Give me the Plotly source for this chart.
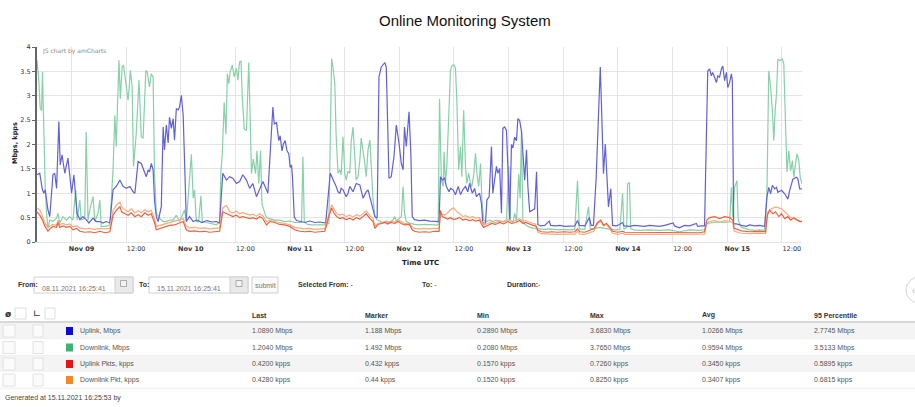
import plotly.graph_objects as go
import pandas as pd

START = pd.Timestamp("2021-11-08 16:25:41")
SPAN_H = 168

# ---------------- series data (hours since START, values) ----------------
uplink_h = [0.0,0.6,1.2,1.5,1.8,2.4,2.8,3.5,3.9,4.3,
    4.8,5.1,5.5,6.1,6.8,7.3,7.6,8.1,8.5,8.8,
    9.4,10.1,10.8,11.4,12.3,13.0,13.8,14.5,15.2,16.0,
    16.7,17.4,18.2,18.9,19.6,20.4,21.1,21.5,22.2,22.9,
    23.7,24.0,24.4,24.7,25.1,25.5,25.8,26.2,26.6,27.3,
    27.7,28.0,28.4,28.8,29.1,29.5,29.9,30.2,30.6,31.0,
    31.3,31.7,32.1,32.4,32.8,33.5,34.3,35.1,36.2,37.3,
    38.4,39.4,40.1,40.8,41.6,42.3,43.0,43.8,44.5,45.2,
    46.0,46.7,47.4,48.2,48.9,49.6,50.4,50.7,51.8,52.1,
    52.6,53.1,53.4,53.8,54.1,54.5,54.9,55.3,55.6,55.9,
    56.1,56.5,57.0,57.7,58.8,59.9,61.0,62.1,63.4,64.4,
    64.9,65.4,65.7,66.1,66.5,66.8,67.2,67.9,68.3,68.7,
    69.4,70.1,70.9,71.6,72.3,72.7,73.1,73.4,74.2,74.7,
    75.1,75.6,76.4,76.7,77.0,77.3,77.8,78.4,78.9,79.5,
    80.0,80.4,80.7,81.1,81.7,82.1,82.4,82.9,84.0,85.1,
    86.2,87.7,88.3,88.6,89.0,89.5,89.9,90.5,90.8,91.4,
    91.9,92.5,93.0,93.5,94.1,94.6,95.0,95.6,96.1,96.5,
    97.2,97.6,97.9,98.5,98.8,99.3,99.8,100.1,100.5,100.9,
    101.2,101.6,102.0,102.3,102.7,103.1,103.4,103.8,104.2,104.5,
    104.9,105.3,105.6,106.0,106.4,106.7,107.1,107.5,107.8,108.2,
    108.9,109.3,109.7,110.0,110.6,111.5,112.5,112.8,113.9,114.8,
    115.9,117.0,118.1,118.7,119.1,120.3,121.3,121.7,122.2,122.8,
    123.3,123.7,124.0,124.4,124.8,125.2,125.5,126.0,126.4,127.3,
    128.6,128.9,130.2,131.2,132.3,133.4,134.5,135.6,136.7,137.8,
    139.7,140.0,141.1,142.2,143.3,144.8,145.1,146.0,146.6,147.3,
    147.7,148.1,148.4,148.8,149.2,149.5,149.9,150.3,150.6,151.0,
    151.4,151.7,152.1,152.5,152.7,153.0,153.6,154.7,155.8,156.5,
    157.6,158.7,159.8,160.3,160.7,161.1,161.5,162.0,162.4,162.7,
    163.5,164.2,164.9,165.3,165.7,166.0,166.8,167.1,167.5,168.0]
uplink = [1.38,1.41,1.07,1.00,1.07,0.66,0.52,1.38,1.41,1.10,
    2.47,1.58,1.79,1.41,1.72,1.20,1.00,1.38,1.00,0.59,
    0.46,0.52,0.46,0.39,0.49,0.42,0.42,0.39,0.42,0.39,
    1.07,1.14,1.27,1.14,1.10,1.14,1.03,1.00,1.65,1.61,
    1.41,1.34,1.48,1.44,1.61,1.48,0.86,0.52,0.42,0.73,
    2.36,1.89,2.40,2.03,2.56,2.33,2.53,2.09,2.74,2.71,
    2.77,3.01,2.60,1.41,0.42,0.52,0.42,0.45,0.40,0.44,
    0.41,0.42,0.39,1.41,1.27,1.34,1.31,1.20,1.24,1.38,
    1.27,1.10,1.20,0.93,1.07,1.24,1.07,1.00,2.77,2.42,
    2.45,2.08,2.18,1.87,2.01,2.08,1.87,1.81,1.53,1.58,
    1.33,0.51,0.44,0.42,0.40,0.43,0.40,0.41,0.39,1.41,
    1.31,1.20,1.14,1.03,1.00,1.10,1.07,0.93,1.00,1.14,
    1.03,1.20,1.17,0.90,1.03,1.07,0.93,0.80,0.52,0.49,
    3.39,3.59,3.68,3.59,2.36,1.31,1.34,1.75,2.40,2.03,
    1.61,1.48,2.36,1.96,2.67,1.82,0.52,0.46,0.44,0.45,
    0.43,0.42,0.42,1.34,1.27,1.31,1.14,1.03,1.10,1.07,
    0.97,1.14,0.97,1.07,1.14,1.03,1.20,1.00,1.10,0.93,
    1.00,0.79,0.39,0.39,0.86,0.93,1.96,1.00,1.27,1.55,
    1.41,1.51,0.59,2.33,2.36,2.29,1.55,0.46,2.00,1.93,
    2.15,2.08,2.53,2.49,2.27,1.82,1.27,1.89,1.14,0.62,
    0.65,0.68,1.44,0.36,0.33,0.34,0.43,0.34,0.33,0.34,
    0.32,0.33,0.33,0.44,0.34,0.33,0.50,0.34,0.34,1.32,
    2.69,3.59,2.69,1.40,2.01,1.33,0.72,1.09,0.34,0.33,
    0.40,0.33,0.32,0.34,0.33,0.32,0.34,0.33,0.32,0.34,
    0.39,0.33,0.29,0.34,0.33,0.38,0.32,0.33,0.33,3.51,
    3.55,3.41,3.48,3.38,3.27,3.41,3.38,3.55,3.61,3.31,
    3.48,3.17,3.27,3.45,3.31,0.37,0.37,0.34,0.32,0.35,
    0.33,0.34,0.32,0.92,1.12,0.99,1.16,1.09,1.12,1.02,
    1.06,0.99,0.88,1.06,1.19,1.29,1.33,1.29,1.09,1.09]

downlink_h = [0.0,0.4,0.7,1.0,1.2,1.5,1.8,2.1,2.4,2.8,
    3.5,4.3,4.6,5.0,5.7,6.5,7.2,7.9,8.5,8.8,
    9.4,9.7,10.5,10.8,11.2,11.6,12.3,12.7,13.4,13.8,
    14.1,15.2,16.0,16.7,17.1,17.4,18.0,18.3,18.7,19.0,
    19.5,20.0,20.2,20.5,20.9,21.2,21.8,22.4,22.9,23.3,
    23.9,24.2,24.7,25.1,25.5,25.8,26.2,26.9,27.7,28.4,
    29.1,29.9,30.6,31.3,32.1,32.4,32.8,33.5,33.9,34.3,
    34.6,35.0,35.5,36.0,36.3,37.2,37.9,38.6,39.4,40.1,
    40.4,40.7,41.1,41.5,41.8,42.1,42.4,42.9,43.3,43.8,
    44.1,44.5,44.8,45.1,45.5,46.0,46.5,46.8,47.1,47.5,
    48.0,48.3,48.7,49.1,49.4,50.0,50.4,51.1,52.2,53.3,
    54.4,55.5,56.6,58.1,58.4,58.7,59.4,60.3,61.2,62.1,
    63.2,64.1,64.4,64.7,65.0,65.4,65.7,66.1,66.5,66.8,
    67.2,67.6,67.9,68.3,68.7,69.0,69.4,69.8,70.1,70.5,
    70.9,71.2,71.6,72.0,72.3,72.7,73.1,73.4,73.8,74.2,
    74.6,75.3,76.0,76.7,77.5,78.2,78.6,78.9,79.3,80.0,
    80.4,80.7,81.1,81.8,82.9,84.0,85.1,86.2,87.3,88.1,
    88.4,88.8,89.2,89.4,89.7,90.0,90.4,90.8,91.2,91.6,
    91.9,92.2,92.6,93.0,93.3,93.7,94.1,94.4,94.8,95.2,
    95.5,95.9,96.3,96.6,97.0,97.4,97.7,98.1,98.7,99.4,
    100.1,100.9,101.6,102.3,103.1,103.6,104.0,104.5,104.9,105.3,
    105.8,106.1,106.4,106.7,107.1,108.2,109.3,110.4,111.5,112.6,
    113.7,114.8,115.9,117.0,118.1,118.7,119.1,120.3,121.1,121.5,
    122.5,123.6,124.7,125.8,126.9,128.0,128.6,128.9,129.5,129.7,
    130.1,130.4,131.2,132.3,134.5,136.7,138.9,141.1,143.3,145.5,
    146.6,147.1,148.2,149.5,151.0,152.1,152.5,152.8,153.2,153.7,
    154.0,154.7,155.8,156.5,157.6,158.7,159.8,160.3,160.7,161.1,
    161.5,161.8,162.1,162.4,162.7,163.1,163.7,164.0,164.4,164.7,
    165.1,165.5,165.9,166.2,166.5,166.9,167.3,167.6,168.0]
downlink = [3.73,3.32,2.74,2.70,3.49,2.23,1.14,0.59,0.28,0.45,
    0.42,0.49,0.59,0.39,0.52,0.45,0.52,0.45,1.07,0.45,
    0.86,0.45,0.49,2.26,0.45,0.66,0.93,0.42,0.59,0.86,
    0.32,0.32,0.35,1.48,2.60,1.96,3.73,2.94,3.59,3.63,
    3.32,2.91,3.11,3.52,3.18,1.55,2.23,3.32,2.16,2.13,
    3.52,3.49,3.18,3.45,3.38,1.41,0.59,0.49,0.42,0.42,
    0.45,0.45,0.55,0.42,0.59,0.66,0.42,1.41,1.80,0.90,
    1.07,0.42,0.42,0.95,0.42,0.40,0.38,0.36,0.35,0.42,
    1.46,1.82,2.86,2.21,3.45,3.25,3.48,3.63,3.39,3.56,
    3.32,3.70,3.71,2.94,2.32,2.29,3.68,2.60,1.40,1.70,
    1.40,1.87,1.20,1.87,0.78,0.60,0.50,0.48,0.45,0.45,
    0.42,0.43,0.40,0.40,1.75,0.42,0.36,0.35,0.35,0.35,
    0.35,0.38,2.09,3.76,3.59,3.25,2.16,1.41,1.48,1.38,
    2.16,1.41,1.27,1.45,1.41,2.06,2.36,1.68,1.27,1.34,
    1.68,2.13,1.89,1.61,1.34,1.89,2.09,1.55,0.86,0.52,
    0.46,0.43,0.39,0.43,0.39,0.46,0.52,0.43,0.46,0.52,
    1.14,0.59,0.42,0.39,0.36,0.35,0.36,0.35,0.35,0.35,
    2.94,1.27,1.14,1.85,1.20,1.55,2.57,3.52,3.63,3.63,
    3.56,2.91,1.48,1.96,1.34,2.70,1.55,1.20,1.41,1.20,
    1.14,1.38,1.82,1.41,1.14,1.61,0.86,0.45,0.42,0.45,
    0.42,0.45,0.42,0.42,0.45,1.55,0.45,0.39,0.59,0.42,
    1.40,0.90,2.30,0.45,0.36,0.30,0.28,0.27,0.26,0.27,
    0.26,0.25,0.26,0.25,0.26,1.26,0.27,0.26,0.72,0.27,
    0.28,0.30,0.28,0.27,0.25,0.26,1.00,0.26,0.30,1.19,
    1.22,0.27,0.25,0.24,0.25,0.24,0.25,0.21,0.25,0.24,
    0.25,0.38,0.40,0.41,0.40,0.42,1.12,0.50,1.12,1.26,
    0.45,0.30,0.27,0.25,0.24,0.25,0.24,1.00,3.51,3.20,
    2.69,2.08,2.69,3.03,3.75,3.72,3.75,3.65,2.35,1.43,
    1.87,1.46,1.67,1.33,1.54,1.81,1.67,1.33,1.20]

pkt_h = [0.0,0.6,1.2,1.7,2.4,2.8,3.5,4.3,4.6,5.0,
    5.7,6.5,7.2,7.9,8.7,9.4,10.5,11.6,12.7,13.8,
    14.9,16.0,16.7,17.4,18.2,18.6,19.3,20.0,20.7,21.5,
    22.2,22.9,23.7,24.4,25.1,25.8,26.2,26.9,28.0,29.1,
    30.2,31.3,32.1,32.8,33.5,34.6,35.7,36.8,37.9,39.0,
    40.1,40.8,41.6,42.3,43.0,43.8,44.5,45.2,46.0,46.7,
    47.4,48.2,48.9,49.6,50.4,51.1,52.2,53.3,54.4,55.5,
    56.6,57.7,58.8,59.9,61.0,62.1,63.2,64.2,64.7,65.2,
    65.8,66.5,67.2,67.9,68.7,69.4,70.1,70.9,71.6,72.3,
    73.1,73.8,74.2,74.9,75.6,76.4,77.0,77.7,78.6,79.3,
    80.0,80.7,81.8,82.4,82.9,84.0,85.1,86.2,87.3,88.3,
    88.6,89.0,89.5,90.2,90.8,91.5,92.2,92.8,93.5,94.1,
    95.0,95.7,96.3,97.2,97.7,98.1,99.0,99.8,100.7,101.6,
    102.5,103.4,104.2,105.1,106.0,106.7,107.3,108.2,108.9,109.5,
    110.0,110.8,112.2,113.0,114.3,115.9,117.0,118.1,118.7,119.2,
    120.3,121.4,122.3,123.1,123.8,124.4,125.1,125.8,126.4,127.5,
    128.6,129.1,130.2,132.3,134.5,136.7,138.9,141.1,143.3,145.5,
    146.6,147.1,147.7,148.8,149.9,151.0,152.1,152.8,153.1,153.9,
    154.7,156.5,158.7,160.0,160.4,160.9,161.6,162.2,162.9,163.5,
    164.2,164.9,165.5,166.2,166.8,167.5,168.0]
uplink_pkts = [0.62,0.55,0.45,0.33,0.22,0.27,0.32,0.30,0.40,0.30,
    0.33,0.30,0.32,0.25,0.28,0.22,0.20,0.21,0.19,0.22,
    0.19,0.21,0.55,0.65,0.72,0.62,0.58,0.55,0.60,0.52,
    0.56,0.52,0.60,0.55,0.58,0.40,0.25,0.27,0.30,0.34,
    0.35,0.40,0.42,0.25,0.22,0.23,0.21,0.22,0.20,0.21,
    0.22,0.62,0.58,0.55,0.52,0.55,0.50,0.52,0.50,0.48,
    0.50,0.47,0.52,0.48,0.35,0.42,0.40,0.36,0.35,0.32,
    0.25,0.22,0.21,0.22,0.20,0.21,0.22,0.55,0.70,0.60,
    0.52,0.48,0.50,0.46,0.49,0.45,0.50,0.47,0.52,0.58,
    0.48,0.42,0.28,0.36,0.38,0.40,0.37,0.40,0.38,0.42,
    0.38,0.35,0.36,0.25,0.22,0.20,0.21,0.20,0.22,0.22,
    0.65,0.52,0.50,0.47,0.50,0.46,0.48,0.50,0.45,0.47,
    0.44,0.46,0.43,0.45,0.35,0.30,0.34,0.38,0.36,0.40,
    0.37,0.42,0.38,0.40,0.44,0.38,0.40,0.36,0.34,0.33,
    0.24,0.21,0.20,0.21,0.20,0.21,0.20,0.21,0.27,0.21,
    0.20,0.24,0.27,0.40,0.45,0.35,0.38,0.30,0.22,0.20,
    0.22,0.20,0.20,0.19,0.20,0.19,0.20,0.19,0.20,0.19,
    0.21,0.45,0.50,0.52,0.48,0.52,0.50,0.45,0.28,0.25,
    0.23,0.21,0.22,0.21,0.55,0.65,0.58,0.62,0.52,0.58,
    0.48,0.52,0.45,0.50,0.46,0.42,0.42]
downlink_pkt = [0.70,0.66,0.52,0.40,0.30,0.33,0.36,0.34,0.45,0.36,
    0.38,0.35,0.37,0.31,0.33,0.29,0.27,0.28,0.26,0.28,
    0.27,0.28,0.65,0.75,0.82,0.72,0.66,0.62,0.68,0.60,
    0.64,0.60,0.66,0.62,0.65,0.48,0.32,0.34,0.36,0.40,
    0.42,0.46,0.48,0.32,0.29,0.30,0.28,0.29,0.27,0.28,
    0.29,0.70,0.75,0.62,0.60,0.63,0.58,0.60,0.57,0.55,
    0.57,0.53,0.58,0.54,0.42,0.45,0.42,0.40,0.38,0.36,
    0.30,0.28,0.27,0.28,0.26,0.27,0.28,0.60,0.76,0.68,
    0.58,0.55,0.57,0.52,0.55,0.51,0.56,0.53,0.58,0.64,
    0.54,0.48,0.33,0.38,0.40,0.42,0.40,0.43,0.41,0.45,
    0.42,0.38,0.38,0.30,0.28,0.27,0.28,0.27,0.28,0.28,
    0.58,0.56,0.55,0.60,0.66,0.70,0.62,0.58,0.52,0.54,
    0.50,0.52,0.49,0.50,0.40,0.35,0.38,0.42,0.40,0.44,
    0.41,0.46,0.42,0.44,0.48,0.42,0.44,0.40,0.38,0.37,
    0.20,0.17,0.16,0.16,0.155,0.16,0.155,0.16,0.22,0.16,
    0.155,0.19,0.22,0.38,0.42,0.33,0.36,0.27,0.18,0.155,
    0.18,0.155,0.155,0.152,0.155,0.152,0.155,0.152,0.155,0.152,
    0.16,0.38,0.42,0.44,0.41,0.44,0.42,0.40,0.22,0.20,
    0.18,0.17,0.18,0.17,0.60,0.66,0.70,0.72,0.70,0.68,
    0.62,0.55,0.50,0.48,0.45,0.43,0.43]

# ---------------- axis ticks ----------------
tick_times = ["2021-11-09 00:00", "2021-11-09 12:00", "2021-11-10 00:00", "2021-11-10 12:00",
              "2021-11-11 00:00", "2021-11-11 12:00", "2021-11-12 00:00", "2021-11-12 12:00",
              "2021-11-13 00:00", "2021-11-13 12:00", "2021-11-14 00:00", "2021-11-14 12:00",
              "2021-11-15 00:00", "2021-11-15 12:00"]
tick_text = ["<b>Nov 09</b>", "12:00", "<b>Nov 10</b>", "12:00", "<b>Nov 11</b>", "12:00",
             "<b>Nov 12</b>", "12:00", "<b>Nov 13</b>", "12:00", "<b>Nov 14</b>", "12:00",
             "<b>Nov 15</b>", "12:00"]
y_ticks = [0, 0.5, 1, 1.5, 2, 2.5, 3, 3.5, 4]
y_tick_text = ["0", "0.5", "1", "1.5", "2", "2.5", "3", "3.5", "4"]

# ---------------- table data ----------------
series_names = ["Uplink, Mbps", "Downlink, Mbps", "Uplink Pkts, kpps", "Downlink Pkt, kpps"]
legend_colors = ["#0b0bd8", "#3cb371", "#e31515", "#f5862a"]
col_headers = ["Last", "Marker", "Min", "Max", "Avg", "95 Percentile"]
col_last = ["1.0890 Mbps", "1.2040 Mbps", "0.4200 kpps", "0.4280 kpps"]
col_marker = ["1.188 Mbps", "1.492 Mbps", "0.432 kpps", "0.44 kpps"]
col_min = ["0.2890 Mbps", "0.2080 Mbps", "0.1570 kpps", "0.1520 kpps"]
col_max = ["3.6830 Mbps", "3.7650 Mbps", "0.7260 kpps", "0.8250 kpps"]
col_avg = ["1.0266 Mbps", "0.9594 Mbps", "0.3450 kpps", "0.3407 kpps"]
col_p95 = ["2.7745 Mbps", "3.5133 Mbps", "0.5895 kpps", "0.6815 kpps"]
from_text = "08.11.2021 16:25:41"
to_text = "15.11.2021 16:25:41"
footer_text = "Generated at 15.11.2021 16:25:53 by"


def times(hours):
    return [START + pd.Timedelta(hours=h) for h in hours]


fig = go.Figure()
fig.add_trace(go.Scatter(x=times(downlink_h), y=downlink, mode="lines", name="Downlink, Mbps",
                         line=dict(color="#86d1a7", width=1.2)))
fig.add_trace(go.Scatter(x=times(uplink_h), y=uplink, mode="lines", name="Uplink, Mbps",
                         line=dict(color="#6060dc", width=1.2)))
fig.add_trace(go.Scatter(x=times(pkt_h), y=downlink_pkt, mode="lines", name="Downlink Pkt, kpps",
                         line=dict(color="#f6ab80", width=1.2)))
fig.add_trace(go.Scatter(x=times(pkt_h), y=uplink_pkts, mode="lines", name="Uplink Pkts, kpps",
                         line=dict(color="#f0603c", width=1.2)))

# ---------------- page layout in pixels ----------------
W_FIG, H_FIG = 915, 407
L, R, T, B = 37, 802, 47, 242
PW, PH = R - L, B - T


def fx(px):
    return (px - L) / PW


def fy(py):
    return (B - py) / PH


ann = []
shp = []
SANS = "Liberation Sans, Arial, sans-serif"
VERD = "DejaVu Sans, Verdana, sans-serif"


def txt(x, y, s, size=7, color="#555", anchor="left", family=SANS, angle=0):
    ann.append(dict(x=fx(x), y=fy(y), xref="paper", yref="paper", text=s, showarrow=False,
                    xanchor=anchor, yanchor="middle", textangle=angle,
                    font=dict(family=family, size=size, color=color)))


def rect(x0, y0, x1, y1, line="#cccccc", fill="white", width=1):
    shp.append(dict(type="rect", xref="paper", yref="paper", x0=fx(x0), x1=fx(x1),
                    y0=fy(y1), y1=fy(y0), line=dict(color=line, width=width),
                    fillcolor=fill, layer="above"))


def hline(x0, x1, y, color="#dddddd", width=1):
    shp.append(dict(type="line", xref="paper", yref="paper", x0=fx(x0), x1=fx(x1),
                    y0=fy(y), y1=fy(y), line=dict(color=color, width=width), layer="above"))


# title, axis titles, credits
txt(465, 20, "Online Monitoring System", size=15, color="#111", anchor="center")
txt(15, 143, "<b>Mbps, kpps</b>", size=6.5, color="#222", anchor="center", family=VERD, angle=-90)
txt(420, 263, "<b>Time UTC</b>", size=7, color="#222", anchor="center", family=VERD)
txt(40, 51, "JS chart by amCharts", size=6, color="#888888", family=VERD)

# form row
txt(16, 284, "<b>From:</b>", size=7, color="#333")
rect(34, 277, 133, 293, line="#d0d0d0", fill="white")
rect(115, 277, 133, 293, line="#d0d0d0", fill="#e9e9e9")
rect(120.5, 280.5, 126.5, 286.5, line="#999", fill="#f4f4f4", width=0.8)
txt(40, 288, from_text, size=7, color="#777")
txt(137, 284, "<b>To:</b>", size=7, color="#333")
rect(149, 277, 248, 293, line="#d0d0d0", fill="white")
rect(230, 277, 248, 293, line="#d0d0d0", fill="#e9e9e9")
rect(236, 280.5, 242, 286.5, line="#999", fill="#f4f4f4", width=0.8)
txt(155, 288, to_text, size=7, color="#777")
rect(252, 277, 278, 293, line="#d0d0d0", fill="#fafafa")
txt(265, 285, "submit", size=7, color="#777", anchor="center")
txt(296, 284, "<b>Selected From:</b> -", size=7, color="#333")
txt(420, 284, "<b>To:</b> -", size=7, color="#333")
txt(505, 284, "<b>Duration:</b>-", size=7, color="#333")

# right edge round button
shp.append(dict(type="circle", xref="paper", yref="paper", x0=fx(906), x1=fx(932),
                y0=fy(303), y1=fy(277), line=dict(color="#d5d5d5", width=1),
                fillcolor="white", layer="above"))
txt(913, 290, "‹", size=10, color="#bbb", anchor="center")

# table
row_y = [331, 347.5, 364, 380]
row_h = 16.4
for i, y in enumerate(row_y):
    fill = "#f4f4f4" if i % 2 == 0 else "white"
    rect(0, y - row_h / 2, 915, y + row_h / 2, line=fill, fill=fill, width=0)
    hline(0, 915, y + row_h / 2, color="#ececec", width=1)
hline(0, 915, 322, color="#d8d8d8", width=2)

txt(8, 314, "<b>ø</b>", size=9, color="#333", anchor="center", family=VERD)
rect(15, 308, 26, 319, line="#dddddd", fill="white")
txt(37, 313, "∟", size=10, color="#333", anchor="center", family=VERD)
rect(45, 308, 55, 319, line="#dddddd", fill="white")

col_x = [250, 363, 475, 588, 700, 812]
for cx, head in zip(col_x, col_headers):
    txt(cx, 315, "<b>" + head + "</b>", size=7, color="#333")

columns = [col_last, col_marker, col_min, col_max, col_avg, col_p95]
for i, y in enumerate(row_y):
    rect(3, y - 6, 15, y + 6, line="#e2e2e2", fill="#fbfbfb")
    rect(33, y - 6, 43, y + 6, line="#e2e2e2", fill="#fbfbfb")
    rect(66, y - 4, 73, y + 4, line=legend_colors[i], fill=legend_colors[i], width=0)
    txt(78, y, series_names[i], size=7, color="#555")
    for cx, col in zip(col_x, columns):
        txt(cx, y, col[i], size=7, color="#555")

txt(3, 398, footer_text, size=7, color="#444")

fig.update_layout(
    width=W_FIG, height=H_FIG,
    margin=dict(l=L, r=W_FIG - R, t=T, b=H_FIG - B, pad=0),
    paper_bgcolor="white", plot_bgcolor="white",
    showlegend=False,
    annotations=ann, shapes=shp,
    xaxis=dict(type="date",
               range=[START, START + pd.Timedelta(hours=SPAN_H)],
               tickvals=tick_times, ticktext=tick_text,
               ticklabelshift=10, ticks="", showgrid=True, gridcolor="#e4e4e4", gridwidth=1,
               showline=True, linecolor="#e4e4e4", zeroline=False,
               tickfont=dict(family=VERD, size=6.5, color="#333")),
    yaxis=dict(range=[0, 4], tickvals=y_ticks, ticktext=y_tick_text,
               showgrid=True, gridcolor="#e4e4e4", gridwidth=1,
               showline=True, linecolor="#666666", linewidth=2, zeroline=False,
               ticks="outside", ticklen=3, tickcolor="#666666",
               tickfont=dict(family=VERD, size=6.5, color="#333")),
)

fig.write_html("out.html", config={"displayModeBar": False},
               post_script="document.body.style.margin='0';document.body.style.overflow='hidden';")
